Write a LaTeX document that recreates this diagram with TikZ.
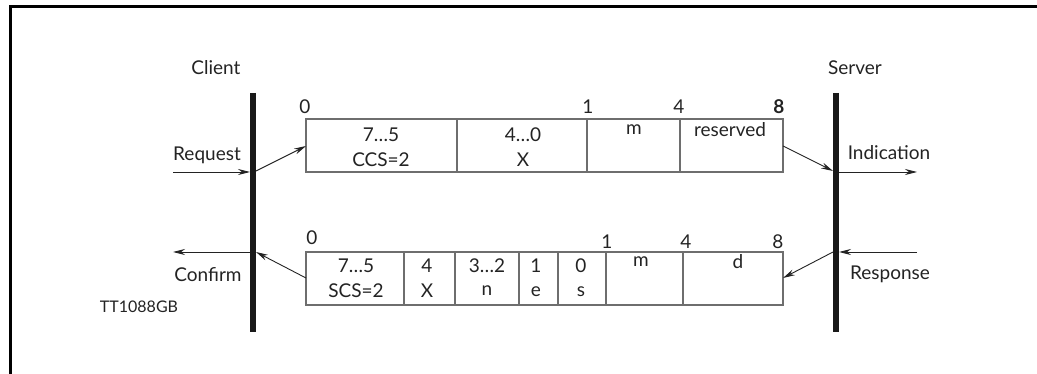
\documentclass[tikz,border=0pt]{standalone}
\usepackage{fontspec}
\setmainfont{Lato}
\usetikzlibrary{arrows.meta}
\definecolor{boxgray}{RGB}{110,110,110}
\definecolor{ink}{RGB}{35,35,35}
\definecolor{barblack}{RGB}{25,25,25}
\begin{document}
\begin{tikzpicture}[x=1pt,y=-1pt,
  txt/.style={inner sep=0pt,anchor=center,text=ink,font=\fontsize{19}{19}\selectfont},
  small/.style={txt,font=\fontsize{16}{16}\selectfont},
  cell/.style={draw=boxgray,line width=1.2pt,inner sep=0pt},
  bar/.style={draw=barblack,line width=6pt},
  frame/.style={draw=black,line width=3pt},
  msg/.style={draw=ink,line width=0.9pt,-{Stealth[length=12pt,width=6pt]}}]
\useasboundingbox (0,0) rectangle (1037,374);
% frame
\draw[frame] (1037,6.5) -- (10.5,6.5) -- (10.5,374);
% headings
\node[txt] (client) at (216,68) {Client};
\node[txt] (server) at (855,68) {Server};
% bars
\coordinate (lbT) at (253,93); \coordinate (lbB) at (253,332);
\coordinate (rbT) at (836,93); \coordinate (rbB) at (836,332);
\draw[bar] (lbT) -- (lbB);
\draw[bar] (rbT) -- (rbB);
% top frame cells
\draw[cell] (306,119) rectangle (783,172);
\foreach \xx in {457,587,680} \draw[cell] (\xx,119) -- (\xx,172);
\node[inner sep=0pt,minimum width=477pt,minimum height=53pt,anchor=north west] (topbox) at (306,119) {};
\node[txt] (t0) at (305,107) {0};
\node[txt] (t1n) at (588,107) {1};
\node[txt] (t4) at (679,107) {4};
\node[txt,font=\fontsize{19}{19}\selectfont\bfseries] (t8) at (779,107) {8};
\node[txt] (ta1) at (381,135) {7\ldots5};
\node[txt] (ta2) at (381,160) {CCS=2};
\node[txt] (tb1) at (523,135) {4\ldots0};
\node[txt] (tb2) at (523,160) {X};
\node[txt] (tc) at (634,130) {m};
\node[txt] (td) at (730,130) {reserved};
% bottom frame cells
\draw[cell] (306,252) rectangle (783,305);
\foreach \xx in {404,455,519,558,606,683} \draw[cell] (\xx,252) -- (\xx,305);
\node[inner sep=0pt,minimum width=477pt,minimum height=53pt,anchor=north west] (botbox) at (306,252) {};
\node[txt] (b0) at (312,238) {0};
\node[txt] (b1n) at (607,242) {1};
\node[txt] (b4) at (686,242) {4};
\node[txt] (b8) at (778,242) {8};
\node[txt] (ba1) at (356,266) {7\ldots5};
\node[txt] (ba2) at (356,291) {SCS=2};
\node[txt] (bb1) at (427,266) {4};
\node[txt] (bb2) at (427,291) {X};
\node[txt] (bc1) at (487,266) {3\ldots2};
\node[txt] (bc2) at (487,291) {n};
\node[txt] (bd1) at (536,266) {1};
\node[txt] (bd2) at (536,292) {e};
\node[txt] (be1) at (581,266) {0};
\node[txt] (be2) at (581,292) {s};
\node[txt] (bf) at (641,262) {m};
\node[txt] (bg) at (738,262) {d};
% side labels
\node[txt] (request) at (207,155) {Request};
\node[txt] (confirm) at (208,275) {Confirm};
\node[txt] (indication) at (889,153) {Indication};
\node[txt] (response) at (890,274) {Response};
\node[small] (tt) at (139,307) {TT1088GB};
% connector points
\coordinate (reqS) at (173,172);
\coordinate (lbReq) at (250,172);
\coordinate (lbReqO) at (256,171);
\coordinate (topW) at (306,146);
\coordinate (topE) at (783,146);
\coordinate (rbInd) at (833,171);
\coordinate (rbIndO) at (839,172);
\coordinate (indE) at (917,172);
\coordinate (resS) at (917,252);
\coordinate (rbRes) at (839,252);
\coordinate (rbResO) at (833,252);
\coordinate (botE) at (783,278);
\coordinate (botW) at (306,278);
\coordinate (lbCon) at (256,252);
\coordinate (lbConO) at (250,252);
\coordinate (conE) at (173,252);
% connectors
\draw[msg] (reqS) -- (lbReq);
\draw[msg] (lbReqO) -- (topW);
\draw[msg] (topE) -- (rbInd);
\draw[msg] (rbIndO) -- (indE);
\draw[msg] (resS) -- (rbRes);
\draw[msg] (rbResO) -- (botE);
\draw[msg] (botW) -- (lbCon);
\draw[msg] (lbConO) -- (conE);
\end{tikzpicture}
\end{document}
